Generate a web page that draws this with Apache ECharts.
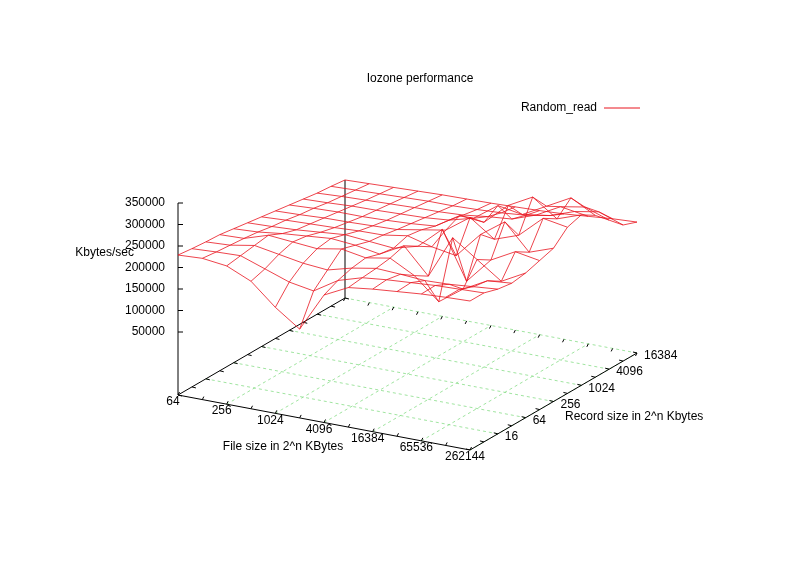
<!DOCTYPE html>
<html><head><meta charset="utf-8">
<script src="https://cdn.jsdelivr.net/npm/echarts@6/dist/echarts.min.js"></script>
<style>html,body{margin:0;padding:0;background:#fff}#c{width:800px;height:566px}</style>
</head><body><div id="c"></div>
<script>
const fileSizes = [64,128,256,512,1024,2048,4096,8192,16384,32768,65536,131072,262144];
const recordSizes = [4,8,16,32,64,128,256,512,1024,2048,4096,8192,16384];
const fileTickLabels = ['64','256','1024','4096','16384','65536','262144'];
const recordTickLabels = ['16','64','256','1024','4096','16384'];
const zTickLabels = [50000,100000,150000,200000,250000,300000,350000];
// Random_read, rows = file size index, columns = record size index (thousands KB/s)
const randomRead = [
 [229,225,222,220,215,210,205,200,195,190,185,182,178],
 [232,228,225,222,218,212,208,202,198,192,188,184,180],
 [225,230,235,240,225,215,210,205,200,195,190,186,182],
 [200,210,225,235,230,220,212,206,200,196,192,188,184],
 [150,190,215,230,235,225,215,208,202,198,194,190,186],
 [110,180,210,240,230,220,216,210,205,200,195,190,187],
 [200,215,225,230,220,215,225,220,210,205,198,192,188],
 [228,232,235,240,250,230,210,230,245,220,205,195,190],
 [235,238,232,210,190,280,200,270,240,260,210,200,192],
 [240,242,228,160,290,170,260,230,290,250,230,210,195],
 [245,246,230,200,250,230,300,250,320,280,260,230,200],
 [248,248,235,230,210,260,240,300,280,310,270,240,205],
 [250,250,240,235,240,250,260,290,300,280,250,220,208]
];

const N = fileSizes.length-1, M = recordSizes.length-1;
const O = [178,395], DU = [292,55], DV = [167,-97], ZS = 0.00043, ZMIN = -96500;
function proj(u,v,z){ return [O[0]+DU[0]*u+DV[0]*v, O[1]+DU[1]*u+DV[1]*v-(z-ZMIN)*ZS]; }
function base(u,v){ return proj(u,v,ZMIN); }

const surfData = [];
randomRead.forEach((row,i)=>row.forEach((z,j)=>surfData.push([i,j,z*1000])));

const chart = echarts.init(document.getElementById('c'));
const red = '#e8141e';
function txt(x,y,s,align,api){ const p=api.coord([x,y]); return {type:'text',style:{x:p[0],y:p[1],text:s,fill:'#000',font:'12px "Liberation Sans", Arial, sans-serif',align:align||'center',verticalAlign:'middle'}}; }
function seg(a,b,api,style){ const p=api.coord(a), q=api.coord(b); return {type:'line',shape:{x1:p[0],y1:p[1],x2:q[0],y2:q[1]},style:style}; }

chart.setOption({
  animation:false,
  grid:{left:0,right:0,top:0,bottom:0},
  xAxis:{type:'value',min:0,max:800,show:false},
  yAxis:{type:'value',min:0,max:566,inverse:true,show:false},
  title:{text:'Iozone performance',left:415,top:68,textAlign:'center',textStyle:{fontSize:12,fontWeight:'normal',color:'#000',fontFamily:'Liberation Sans'}},
  series:[
    {type:'custom',silent:true,data:[0],renderItem:function(params,api){
      const ch=[]; const ax={stroke:'#000',lineWidth:1}; const gr={stroke:'#88dd88',lineWidth:0.8,lineDash:[3,3]};
      for(let k=1;k<fileTickLabels.length;k++){ const u=k*2/N; ch.push(seg(base(u,0),base(u,1),api,gr)); }
      for(let k=0;k<recordTickLabels.length;k++){ const v=(k+1)*2/M; ch.push(seg(base(0,v),base(1,v),api,gr)); }
      ch.push(seg(base(0,0),base(1,0),api,ax));
      ch.push(seg(base(1,0),base(1,1),api,ax));
      ch.push(seg(base(0,0),base(0,1),api,ax));
      ch.push(seg(base(0,0),proj(0,0,350000),api,ax));
      ch.push(seg(base(0,1),proj(0,1,randomRead[0][M]*1000),api,ax));
      for(let i=0;i<=N;i++){ const b=base(i/N,0); ch.push(seg(b,[b[0]+1.5,b[1]-3],api,ax)); const c=base(i/N,1); ch.push(seg(c,[c[0]-1.5,c[1]+3],api,ax)); }
      for(let j=0;j<=M;j++){ const b=base(1,j/M); ch.push(seg(b,[b[0]-4,b[1]-1],api,ax)); const c=base(0,j/M); ch.push(seg(c,[c[0]+4,c[1]+1],api,ax)); }
      zTickLabels.forEach(z=>{ const p=proj(0,0,z); ch.push(seg(p,[p[0]+5,p[1]],api,ax)); ch.push(txt(p[0]-13,p[1],String(z),'right',api)); });
      fileTickLabels.forEach((s,k)=>{ const b=base(k*2/N,0); ch.push(txt(b[0]-5,b[1]+7,s,'center',api)); });
      recordTickLabels.forEach((s,k)=>{ const b=base(1,(k+1)*2/M); ch.push(txt(b[0]+7,b[1]+3,s,'left',api)); });
      ch.push(txt(134,253,'Kbytes/sec','right',api));
      ch.push(txt(283,447,'File size in 2^n KBytes','center',api));
      ch.push(txt(565,417,'Record size in 2^n Kbytes','left',api));
      ch.push(txt(597,108,'Random_read','right',api));
      ch.push(seg([604,108],[640,108],api,{stroke:red,lineWidth:1}));
      return {type:'group',children:ch};
    }},
    {type:'custom',name:'Random_read',silent:true,data:surfData,renderItem:function(params,api){
      const i=api.value(0), j=api.value(1), z=api.value(2); const ch=[]; const st={stroke:red,lineWidth:0.8};
      const p=proj(i/N,j/M,z);
      if(i<N) ch.push(seg(p,proj((i+1)/N,j/M,randomRead[i+1][j]*1000),api,st));
      if(j<M) ch.push(seg(p,proj(i/N,(j+1)/M,randomRead[i][j+1]*1000),api,st));
      return {type:'group',children:ch};
    }}
  ]
});
</script></body></html>
